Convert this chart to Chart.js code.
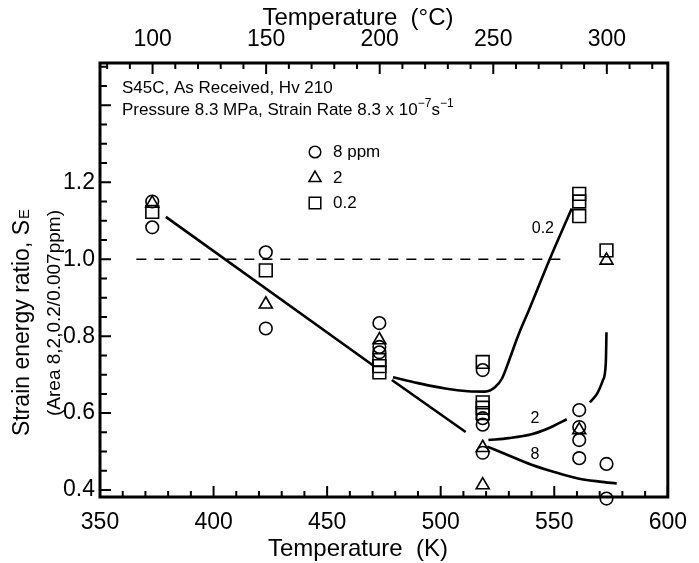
<!DOCTYPE html>
<html lang="en">
<head>
<meta charset="UTF-8" />
<title>Strain energy ratio vs temperature</title>
<script src="https://cdn.jsdelivr.net/npm/chart.js@4"></script>
<style>
  html, body { margin: 0; padding: 0; background: #fff; }
  #wrap { width: 699px; height: 563px; position: relative; }
</style>
</head>
<body>
<div id="wrap"><canvas id="chart"></canvas></div>
<script>
// values: temperature (K) and strain energy ratio S_E
const temp8   = [373, 373, 423, 423, 473, 473, 473, 518.5, 518.5, 518.5, 518.5, 561, 561, 561, 561, 573, 573];
const ratio8  = [1.15, 1.083, 1.018, 0.82, 0.834, 0.772, 0.758, 0.712, 0.587, 0.57, 0.497, 0.608, 0.564, 0.53, 0.483, 0.468, 0.378];

const temp2   = [373, 423, 473, 518.5, 518.5, 561, 573];
const ratio2  = [1.145, 0.883, 0.79, 0.51, 0.413, 0.556, 0.997];

const temp02  = [373, 423, 473, 473, 473, 518.5, 518.5, 518.5, 518.5, 561, 561, 561, 573];
const ratio02 = [1.123, 0.971, 0.738, 0.722, 0.706, 0.733, 0.628, 0.614, 0.60, 1.17, 1.15, 1.112, 1.023];

// hand-drawn trend curves
const mainK = [379, 470];
const mainS = [1.11, 0.725];
const c02K  = [479, 490, 502, 512, 519.5, 524, 527, 530, 534, 539, 548, 557.7];
const c02S  = [0.693, 0.678, 0.664, 0.657, 0.656, 0.668, 0.69, 0.735, 0.80, 0.87, 1.0, 1.132];
const c8aK  = [478.5, 511];
const c8aS  = [0.686, 0.551];
const c8bK  = [520.5, 530, 540, 550, 560, 570, 577.5];
const c8bS  = [0.513, 0.49, 0.466, 0.447, 0.431, 0.422, 0.417];
const c2aK  = [521, 530, 540, 548, 555.5];
const c2aS  = [0.53, 0.535, 0.545, 0.562, 0.584];
const c2bK  = [565.7, 569, 571.4, 572.7, 573];
const c2bS  = [0.628, 0.652, 0.685, 0.73, 0.81];
const refK  = [366, 555];
const refS  = [1.0, 1.0];

// top axis tick labels (deg C)
const celsiusTicks = [100, 150, 200, 250, 300];

const FONT = "'Liberation Sans', Arial, Helvetica, sans-serif";
const toPts = (xs, ys) => xs.map((x, i) => ({ x: x, y: ys[i] }));

const markers = (data, style, r) => ({
  data: data, pointStyle: style, pointRadius: r, pointBorderWidth: 1.6,
  pointBorderColor: '#000', pointBackgroundColor: 'rgba(0,0,0,0)',
  showLine: false, clip: false
});
const curve = (data, extra) => Object.assign({
  data: data, showLine: true, pointRadius: 0, borderColor: '#000',
  borderWidth: 2.6, cubicInterpolationMode: 'monotone', fill: false, clip: false
}, extra || {});

// inward ticks, frame and all the figure text
const decor = {
  id: 'decor',
  afterDraw(chart) {
    const ctx = chart.ctx, a = chart.chartArea;
    const sx = chart.scales.x, sc = chart.scales.xC, sy = chart.scales.y;
    ctx.save();
    ctx.strokeStyle = '#000';
    ctx.fillStyle = '#000';

    // ticks
    ctx.lineWidth = 2;
    ctx.beginPath();
    for (let k = 350; k <= 600; k += 10) {
      const px = sx.getPixelForValue(k), len = k % 50 === 0 ? 11 : 6;
      ctx.moveTo(px, a.bottom); ctx.lineTo(px, a.bottom - len);
    }
    for (let c = 80; c <= 320; c += 10) {
      const px = sc.getPixelForValue(c), len = c % 50 === 0 ? 11 : 6;
      ctx.moveTo(px, a.top); ctx.lineTo(px, a.top + len);
    }
    for (let i = 8; i <= 30; i++) {
      const py = sy.getPixelForValue(i * 0.05), len = i % 4 === 0 ? 11 : 7;
      ctx.moveTo(a.left, py); ctx.lineTo(a.left + len, py);
    }
    ctx.stroke();

    // frame
    ctx.lineWidth = 3;
    ctx.strokeRect(a.left, a.top, a.right - a.left, a.bottom - a.top);

    // axis titles
    ctx.textAlign = 'center';
    ctx.textBaseline = 'middle';
    ctx.font = '24px ' + FONT;
    const tx = a.left + 258;
    ctx.fillText('Temperature  (\u00B0C)', tx, 18);
    ctx.fillText('Temperature  (K)', tx, 549);

    // y title, rotated
    ctx.save();
    ctx.translate(23, 323);
    ctx.rotate(-Math.PI / 2);
    ctx.font = '23px ' + FONT;
    const t1 = 'Strain energy ratio, S';
    const w1 = ctx.measureText(t1).width;
    ctx.font = '15px ' + FONT;
    const wE = ctx.measureText('E').width;
    const start = -(w1 + wE) / 2;
    ctx.textAlign = 'left';
    ctx.font = '23px ' + FONT;
    ctx.fillText(t1, start, 0);
    ctx.font = '15px ' + FONT;
    ctx.fillText('E', start + w1 + 1, 2);
    ctx.restore();

    ctx.save();
    ctx.translate(55, 313);
    ctx.rotate(-Math.PI / 2);
    ctx.font = '19px ' + FONT;
    ctx.textAlign = 'center';
    ctx.fillText('(Area 8,2,0.2/0.007ppm)', 0, 0);
    ctx.restore();

    // info lines
    ctx.textAlign = 'left';
    ctx.font = '17px ' + FONT;
    ctx.fillText('S45C, As Received, Hv 210', a.left + 22, 88);
    const runs = [
      ['Pressure 8.3 MPa, Strain Rate 8.3 x 10', false],
      ['\u22127', true], ['s', false], ['\u22121', true]
    ];
    let x = a.left + 22;
    runs.forEach(([t, sup]) => {
      ctx.font = (sup ? '12px ' : '17px ') + FONT;
      ctx.fillText(t, x, sup ? 104 : 110);
      x += ctx.measureText(t).width;
    });

    // legend (outline markers)
    const legend = [['circle', 5.8, '8 ppm', 152], ['triangle', 7, '2', 178], ['rect', 8.2, '0.2', 203]];
    legend.forEach(([style, r, label, y]) => {
      ctx.save();
      ctx.lineWidth = 1.5;
      ctx.fillStyle = 'rgba(0,0,0,0)';
      Chart.helpers.drawPoint(ctx, { pointStyle: style, radius: r, borderWidth: 1.5 }, a.left + 215, y);
      ctx.restore();
      ctx.font = '17px ' + FONT;
      ctx.fillText(label, a.left + 233, y);
    });

    // curve labels
    ctx.font = '16px ' + FONT;
    ctx.textAlign = 'center';
    ctx.fillText('0.2', sx.getPixelForValue(545), sy.getPixelForValue(1.08));
    ctx.fillText('2', sx.getPixelForValue(541.5), sy.getPixelForValue(0.587));
    ctx.fillText('8', sx.getPixelForValue(541.5), sy.getPixelForValue(0.493));
    ctx.restore();
  }
};

new Chart(document.getElementById('chart'), {
  type: 'scatter',
  data: {
    datasets: [
      markers(toPts(temp8, ratio8), 'circle', 6.3),
      markers(toPts(temp2, ratio2), 'triangle', 7.5),
      markers(toPts(temp02, ratio02), 'rect', 9),
      curve(toPts(mainK, mainS)),
      curve(toPts(c02K, c02S)),
      curve(toPts(c8aK, c8aS)),
      curve(toPts(c8bK, c8bS)),
      curve(toPts(c2aK, c2aS)),
      curve(toPts(c2bK, c2bS)),
      curve(toPts(refK, refS), { borderWidth: 1.6, borderDash: [10, 8] })
    ]
  },
  options: {
    responsive: true,
    maintainAspectRatio: false,
    animation: false,
    layout: { padding: { left: 0, right: 31, top: 0, bottom: 0 } },
    plugins: { legend: { display: false }, tooltip: { enabled: false } },
    scales: {
      x: {
        type: 'linear', position: 'bottom', min: 350, max: 600,
        ticks: { stepSize: 50, includeBounds: false, color: '#000', padding: 12, font: { family: FONT, size: 23 } },
        grid: { display: false, drawTicks: false }, border: { display: false },
        afterFit: s => { s.height = 66; }
      },
      xC: {
        type: 'linear', position: 'top', min: 350 - 273.15, max: 600 - 273.15,
        afterBuildTicks: s => { s.ticks = celsiusTicks.map(v => ({ value: v })); },
        ticks: { color: '#000', padding: 10, font: { family: FONT, size: 23 } },
        grid: { display: false, drawTicks: false }, border: { display: false },
        afterFit: s => { s.height = 63; }
      },
      y: {
        type: 'linear', min: 0.382, max: 1.51,
        ticks: {
          stepSize: 0.2, includeBounds: false, color: '#000', padding: 5,
          font: { family: FONT, size: 23 },
          callback: v => v > 1.3 ? '' : v.toFixed(1)
        },
        grid: { display: false, drawTicks: false }, border: { display: false },
        afterFit: s => { s.width = 100; }
      }
    }
  },
  plugins: [decor]
});
</script>
</body>
</html>
